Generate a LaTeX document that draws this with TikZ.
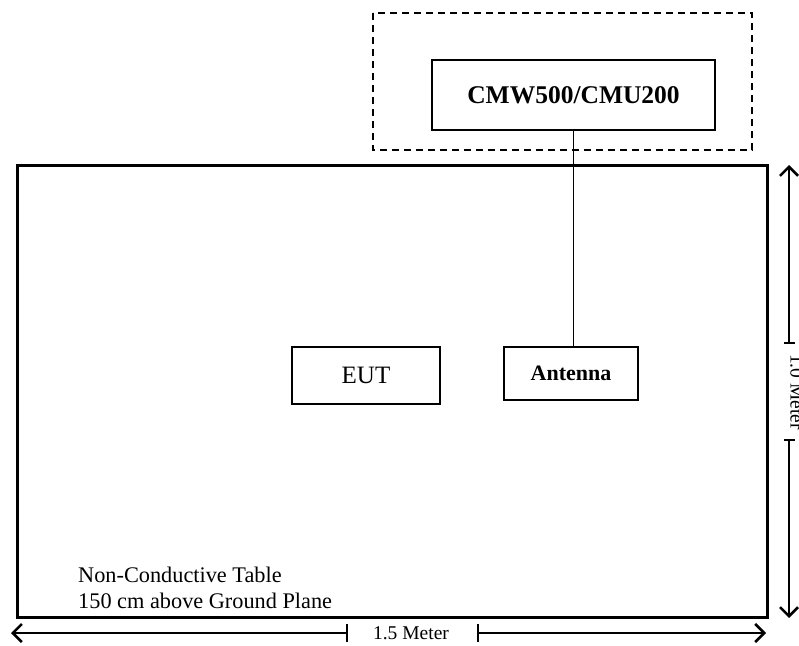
\documentclass[tikz,border=0pt]{standalone}
\usepackage{fontspec}
\setmainfont{Liberation Serif}
\usetikzlibrary{arrows.meta}
\begin{document}
\begin{tikzpicture}[
        x=1pt, y=-1pt,
        >={Straight Barb[length=9pt, width=18pt, line width=2.6pt]},
        unit/.style={rectangle, draw, line width=1.6pt, inner sep=0pt},
        dimline/.style={line width=1.5pt},
        dimlabel/.style={font=\fontsize{19.5}{22}\selectfont, inner sep=0pt}
    ]
        \useasboundingbox (0,0) rectangle (799,645);

        % Test system enclosure and table
        \draw[line width=1.6pt, dash pattern=on 7pt off 5pt] (373,13) rectangle (752,150);
        \draw[line width=3pt] (17,165) rectangle (767,617);

        % Equipment
        \node[unit, minimum width=283pt, minimum height=70pt, font=\fontsize{25.5}{30}\selectfont\bfseries] (tester) at (573.5,95) {CMW500/CMU200};
        \node[unit, minimum width=134pt, minimum height=53pt, font=\fontsize{22}{26}\selectfont\bfseries] (antenna) at (571,373.5) {Antenna};
        \node[unit, minimum width=148pt, minimum height=57pt, font=\fontsize{25}{28}\selectfont] (eut) at (366,375.5) {EUT};

        % Connection
        \draw[line width=1.4pt] (tester.south) -- (tester.south |- antenna.north);

        % Table label
        \node[anchor=north west, align=left, inner sep=0pt, font=\fontsize{22.3}{25.5}\selectfont] (tablelabel) at (78,567) {Non-Conductive Table\\150 cm above Ground Plane};

        % Horizontal dimension
        \coordinate (hleft) at (11,633);
        \coordinate (hright) at (766,633);
        \coordinate (htick1) at (347,633);
        \coordinate (htick2) at (478,633);
        \draw[dimline, <-] (hleft) -- (htick1);
        \draw[dimline, ->] (htick2) -- (hright);
        \draw[dimline] ([yshift=-9pt]htick1) -- ([yshift=9pt]htick1);
        \draw[dimline] ([yshift=-9pt]htick2) -- ([yshift=9pt]htick2);
        \node[dimlabel] (hlabel) at (411,633) {1.5 Meter};

        % Vertical dimension
        \coordinate (vtop) at (789,165);
        \coordinate (vbottom) at (789,618);
        \coordinate (vtick1) at (789,343);
        \coordinate (vtick2) at (789,440);
        \draw[dimline, <-] (vtop) -- (vtick1);
        \draw[dimline, ->] (vtick2) -- (vbottom);
        \draw[dimline] ([xshift=-5pt]vtick1) -- ([xshift=6pt]vtick1);
        \draw[dimline] ([xshift=-5pt]vtick2) -- ([xshift=6pt]vtick2);
        \node[dimlabel, rotate=-90] (vlabel) at (797,392) {1.0 Meter};

\end{tikzpicture}
\end{document}
